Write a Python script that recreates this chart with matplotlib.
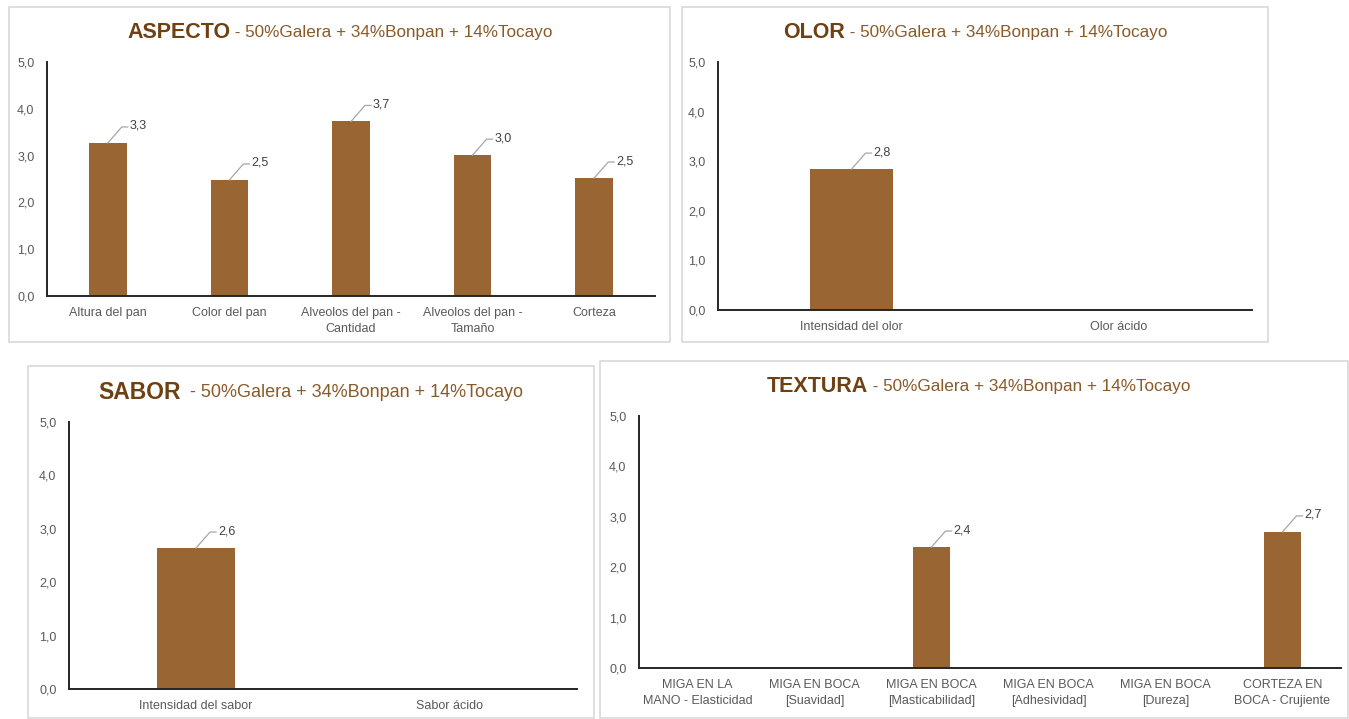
import matplotlib
matplotlib.use("Agg")
import matplotlib.pyplot as plt
from matplotlib.patches import Rectangle
from matplotlib.transforms import ScaledTranslation
from matplotlib.ticker import FuncFormatter

plt.rcParams['font.family'] = ['Liberation Sans', 'DejaVu Sans']

# ---- data ----
mix_label = " - 50%Galera + 34%Bonpan + 14%Tocayo"

aspecto_cats = ["Altura del pan", "Color del pan", "Alveolos del pan -\nCantidad",
                "Alveolos del pan -\nTamaño", "Corteza"]
aspecto_vals = [3.27, 2.48, 3.73, 3.01, 2.52]

olor_cats = ["Intensidad del olor", "Olor ácido"]
olor_vals = [2.84, None]

sabor_cats = ["Intensidad del sabor", "Sabor ácido"]
sabor_vals = [2.64, None]

textura_cats = ["MIGA EN LA\nMANO - Elasticidad", "MIGA EN BOCA\n[Suavidad]",
                "MIGA EN BOCA\n[Masticabilidad]", "MIGA EN BOCA\n[Adhesividad]",
                "MIGA EN BOCA\n[Dureza]", "CORTEZA EN\nBOCA - Crujiente"]
textura_vals = [None, None, 2.40, None, None, 2.70]

# ---- style ----
W, H = 1349, 719
DPI = 100
BAR = "#996633"
TITLE_BOLD = "#6e4012"
TITLE_SUB = "#8a5a28"
TICK = "#595959"
LEADER = "#a6a6a6"

fig = plt.figure(figsize=(W / DPI, H / DPI), dpi=DPI)
fig.patch.set_facecolor("white")


def px_rect(l, t, r, b):
    return [l / W, 1 - b / H, (r - l) / W, (b - t) / H]


def frame(l, t, r, b):
    fig.patches.append(Rectangle((l / W, 1 - b / H), (r - l) / W, (b - t) / H,
                                 transform=fig.transFigure, fill=False,
                                 edgecolor="#d9d9d9", linewidth=1.2, zorder=0))


def title(name, cx, cy, big=15.5, small=12.3, gap=0):
    renderer = fig.canvas.get_renderer()
    t1 = fig.text(0, 0, name, fontsize=big, fontweight="bold",
                  color=TITLE_BOLD, va="center", ha="left")
    t2 = fig.text(0, 0, mix_label, fontsize=small, color=TITLE_SUB,
                  va="center", ha="left")
    w1 = t1.get_window_extent(renderer).width
    w2 = t2.get_window_extent(renderer).width
    x0 = cx - (w1 + gap + w2) / 2
    t1.set_position((x0 / W, 1 - cy / H))
    t2.set_position(((x0 + w1 + gap) / W, 1 - cy / H))


def panel(rect, cats, vals):
    ax = fig.add_axes(px_rect(*rect))
    n = len(cats)
    xs = list(range(n))
    heights = [v if v is not None else 0 for v in vals]
    ax.bar(xs, heights, width=0.31, color=BAR, edgecolor="none", zorder=2)
    ax.set_xlim(-0.5, n - 0.5)
    ax.set_ylim(0, 5)
    ax.set_yticks([0, 1, 2, 3, 4, 5])
    ax.yaxis.set_major_formatter(FuncFormatter(lambda v, p: f"{v:.1f}".replace(".", ",")))
    ax.set_xticks(xs)
    ax.set_xticklabels(cats, fontsize=9, color=TICK, linespacing=1.4)
    ax.tick_params(axis="both", length=0, labelsize=9, labelcolor=TICK)
    ax.tick_params(axis="y", pad=9)
    ax.tick_params(axis="x", pad=8)
    for s in ("top", "right"):
        ax.spines[s].set_visible(False)
    for s in ("left", "bottom"):
        ax.spines[s].set_color("#262626")
        ax.spines[s].set_linewidth(1.4)
    ax.set_facecolor("none")

    # value labels with leader lines
    for x, v in zip(xs, vals):
        if v is None:
            continue
        # leader: diagonal then short horizontal segment
        pts = [(0, 0), (14, 16), (20, 16)]
        base = ax.transData.transform((x, v))
        disp = [(base[0] + dx, base[1] + dy) for dx, dy in pts]
        data_pts = ax.transData.inverted().transform(disp)
        ax.plot(data_pts[:, 0], data_pts[:, 1], color=LEADER, linewidth=0.9,
                zorder=3, clip_on=False)
        shift = ScaledTranslation(22 / DPI, 17 / DPI, fig.dpi_scale_trans)
        ax.text(x, v, f"{v:.1f}".replace(".", ","), transform=ax.transData + shift,
                fontsize=9, color="#404040", ha="left", va="center")
    return ax


# panel frames
frame(9, 7, 670, 342)
frame(682, 7, 1268, 342)
frame(28, 366, 594, 718)
frame(600, 361, 1348, 718)

panel((47, 62, 655, 296), aspecto_cats, aspecto_vals)
panel((718, 62, 1252, 310), olor_cats, olor_vals)
panel((69, 422, 577, 689), sabor_cats, sabor_vals)
panel((639, 416, 1341, 668), textura_cats, textura_vals)

title("ASPECTO", 340, 32)
title("OLOR", 975, 32)
title("SABOR", 311, 392, big=16.5, small=13, gap=4)
title("TEXTURA", 979, 387)

fig.savefig("out.png", dpi=DPI, facecolor="white")
